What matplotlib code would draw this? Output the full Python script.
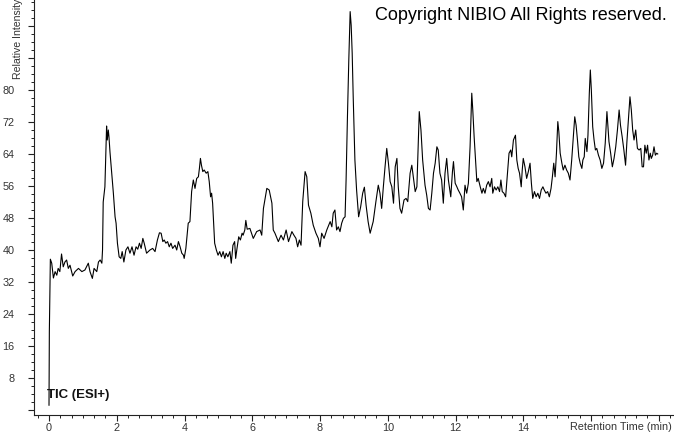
import numpy as np
import matplotlib
matplotlib.use("Agg")
import matplotlib.pyplot as plt
from matplotlib.ticker import MultipleLocator, FixedLocator

# retention time (min) and relative intensity
rt = [0.00, 0.01, 0.04, 0.08, 0.13, 0.18, 0.23, 0.27, 0.32, 0.37,
      0.42, 0.47, 0.52, 0.57, 0.62, 0.70, 0.77, 0.87, 0.97, 1.06,
      1.16, 1.21, 1.28, 1.33, 1.41, 1.46, 1.51, 1.56, 1.58, 1.60,
      1.65, 1.68, 1.70, 1.72, 1.75, 1.77, 1.80, 1.85, 1.90, 1.95,
      1.98, 2.02, 2.07, 2.12, 2.16, 2.21, 2.27, 2.33, 2.39, 2.45,
      2.51, 2.57, 2.62, 2.67, 2.72, 2.77, 2.81, 2.88, 2.98, 3.06,
      3.13, 3.20, 3.26, 3.31, 3.36, 3.40, 3.45, 3.50, 3.55, 3.60,
      3.65, 3.72, 3.77, 3.82, 3.87, 3.92, 3.97, 3.99, 4.04, 4.11,
      4.16, 4.21, 4.26, 4.31, 4.36, 4.41, 4.44, 4.47, 4.50, 4.54,
      4.58, 4.64, 4.69, 4.73, 4.77, 4.80, 4.83, 4.85, 4.89, 4.94,
      4.99, 5.04, 5.09, 5.14, 5.19, 5.23, 5.28, 5.34, 5.38, 5.43,
      5.48, 5.51, 5.55, 5.60, 5.65, 5.70, 5.73, 5.78, 5.81, 5.85,
      5.93, 6.03, 6.13, 6.23, 6.28, 6.33, 6.43, 6.50, 6.58, 6.62,
      6.67, 6.77, 6.85, 6.92, 7.00, 7.07, 7.17, 7.23, 7.29, 7.34,
      7.39, 7.44, 7.49, 7.56, 7.61, 7.66, 7.73, 7.80, 7.88, 7.95,
      8.00, 8.05, 8.12, 8.20, 8.30, 8.35, 8.39, 8.44, 8.49, 8.54,
      8.59, 8.64, 8.69, 8.74, 8.77, 8.81, 8.85, 8.89, 8.92, 8.95,
      8.98, 9.03, 9.08, 9.14, 9.20, 9.26, 9.31, 9.36, 9.42, 9.48,
      9.53, 9.57, 9.65, 9.72, 9.77, 9.82, 9.87, 9.92, 9.97, 10.02,
      10.07, 10.12, 10.17, 10.22, 10.27, 10.31, 10.36, 10.41, 10.48, 10.54,
      10.59, 10.66, 10.71, 10.76, 10.81, 10.86, 10.90, 10.93, 10.98, 11.03,
      11.10, 11.15, 11.20, 11.25, 11.30, 11.35, 11.40, 11.45, 11.49, 11.54,
      11.59, 11.64, 11.69, 11.74, 11.79, 11.86, 11.91, 11.94, 11.99, 12.04,
      12.08, 12.13, 12.18, 12.23, 12.28, 12.33, 12.38, 12.43, 12.48, 12.51,
      12.55, 12.59, 12.63, 12.67, 12.73, 12.78, 12.82, 12.87, 12.92, 12.97,
      13.02, 13.07, 13.10, 13.15, 13.20, 13.25, 13.30, 13.34, 13.38, 13.43,
      13.48, 13.53, 13.58, 13.63, 13.66, 13.71, 13.77, 13.81, 13.85, 13.89,
      13.94, 13.97, 14.00, 14.05, 14.10, 14.15, 14.20, 14.24, 14.28, 14.33,
      14.38, 14.43, 14.48, 14.53, 14.58, 14.62, 14.67, 14.72, 14.77, 14.82,
      14.86, 14.90, 14.94, 14.98, 15.02, 15.05, 15.09, 15.14, 15.18, 15.23,
      15.28, 15.33, 15.38, 15.43, 15.48, 15.52, 15.56, 15.60, 15.64, 15.68,
      15.73, 15.76, 15.80, 15.83, 15.88, 15.91, 15.95, 15.98, 16.01, 16.05,
      16.09, 16.13, 16.17, 16.22, 16.27, 16.32, 16.37, 16.42, 16.47, 16.50,
      16.53, 16.58, 16.63, 16.68, 16.73, 16.78, 16.83, 16.87, 16.92, 16.97,
      17.02, 17.06, 17.10, 17.15, 17.19, 17.23, 17.27, 17.32, 17.37, 17.42,
      17.47, 17.51, 17.55, 17.59, 17.63, 17.67, 17.71, 17.75, 17.78, 17.82,
      17.86, 17.90, 17.94, 17.97]

intensity = [1.2, 19.6, 37.7, 36.7, 33.0, 34.6, 33.7, 35.4, 34.6, 39.0,
             35.8, 37.0, 37.5, 35.4, 36.2, 33.5, 34.6, 35.4, 34.6, 35.0,
             36.7, 34.6, 32.9, 35.4, 34.6, 37.0, 37.5, 36.7, 40.0, 52.0,
             55.8, 64.5, 71.0, 67.5, 70.0, 68.3, 64.5, 59.5, 54.2, 48.3,
             46.7, 41.7, 38.3, 37.9, 39.6, 37.0, 40.0, 40.8, 39.2, 40.8,
             38.7, 40.8, 40.2, 41.7, 40.4, 42.9, 41.7, 39.2, 40.0, 40.4,
             39.6, 42.5, 44.3, 44.2, 42.1, 42.5, 41.7, 42.1, 40.8, 41.7,
             40.4, 41.2, 40.0, 42.1, 40.8, 39.2, 38.7, 37.9, 40.4, 46.7,
             47.1, 54.6, 57.5, 55.4, 57.9, 58.3, 60.4, 62.9, 61.2, 59.6,
             60.0, 59.2, 59.6, 57.1, 53.3, 54.2, 51.7, 48.3, 41.7, 40.0,
             38.7, 39.6, 38.3, 39.6, 37.9, 39.2, 38.3, 39.6, 36.7, 41.2,
             42.1, 37.9, 40.4, 43.3, 42.5, 44.2, 43.7, 45.0, 47.4, 45.2,
             45.4, 42.9, 44.6, 45.0, 43.7, 50.4, 55.4, 55.0, 51.7, 45.0,
             44.2, 42.1, 43.7, 42.5, 45.0, 42.1, 44.6, 43.7, 42.9, 40.8,
             42.5, 41.2, 52.1, 59.6, 58.3, 51.2, 49.2, 46.2, 44.2, 42.9,
             40.8, 44.2, 42.9, 45.0, 47.1, 45.8, 49.2, 50.0, 45.0, 45.8,
             44.6, 46.7, 47.9, 48.3, 57.5, 73.3, 87.5, 99.6, 96.2, 89.2,
             78.3, 62.5, 55.0, 48.3, 50.8, 54.2, 55.7, 51.2, 47.1, 44.2,
             45.8, 47.1, 52.1, 56.2, 54.2, 50.4, 55.8, 60.8, 65.4, 61.7,
             57.1, 55.8, 51.7, 60.8, 62.9, 55.8, 50.4, 49.2, 52.5, 52.9,
             52.1, 59.2, 61.2, 57.9, 54.6, 55.8, 66.7, 74.6, 70.0, 62.5,
             56.2, 53.7, 50.4, 50.0, 54.2, 59.2, 61.7, 65.8, 65.0, 59.2,
             57.5, 51.7, 59.2, 62.9, 57.5, 53.3, 59.6, 62.1, 56.7, 55.8,
             55.0, 54.2, 53.3, 50.0, 56.2, 54.2, 56.7, 65.8, 79.2, 75.0,
             68.3, 62.5, 57.1, 57.9, 55.8, 54.2, 55.4, 54.2, 56.2, 57.1,
             55.8, 57.9, 54.2, 55.8, 55.0, 55.8, 54.6, 57.5, 54.6, 54.2,
             53.3, 58.7, 64.2, 65.0, 63.3, 67.5, 68.7, 62.5, 60.4, 59.2,
             55.8, 60.0, 62.9, 60.8, 57.9, 59.6, 61.7, 56.7, 52.9, 54.6,
             53.3, 54.2, 52.9, 55.0, 55.8, 55.0, 54.2, 54.6, 53.3, 55.4,
             58.3, 61.7, 58.3, 64.2, 72.1, 69.6, 64.2, 61.7, 60.0, 61.2,
             60.0, 59.2, 57.5, 62.5, 68.3, 73.3, 71.2, 67.5, 63.3, 61.7,
             60.4, 62.5, 63.3, 67.9, 64.6, 68.7, 79.2, 85.0, 80.0, 70.8,
             67.5, 65.0, 65.4, 63.7, 62.5, 60.4, 61.7, 66.7, 74.6, 70.8,
             67.1, 64.2, 60.8, 62.9, 65.8, 70.0, 75.0, 71.2, 68.3, 65.0,
             61.2, 67.1, 72.1, 78.3, 75.0, 70.0, 67.5, 70.0, 65.4, 65.0,
             65.4, 60.8, 60.8, 66.2, 64.2, 66.2, 62.5, 64.2, 62.9, 63.7,
             65.8, 63.7, 64.2, 64.0]

x_labels = [0, 2, 4, 6, 8, 10, 12, 14]
y_labels = [8, 16, 24, 32, 40, 48, 56, 64, 72, 80]

plt.rcParams['font.family'] = ['Liberation Sans', 'DejaVu Sans']

W, H = 674, 434
fig = plt.figure(figsize=(W / 100, H / 100), dpi=100)
ax = fig.add_axes([34 / W, 19 / H, (W - 34) / W, 415 / H])

ax.plot(rt, intensity, color='black', linewidth=0.8)

ax.set_xlim(-0.443, 18.45)
ax.set_ylim(-1.25, 102.5)

for side in ['top', 'right']:
    ax.spines[side].set_visible(False)
for side in ['left', 'bottom']:
    ax.spines[side].set_color('#222222')
    ax.spines[side].set_linewidth(0.8)

# x axis: labels every 2 min, small ticks every 1/3 min
ax.xaxis.set_major_locator(FixedLocator(list(range(0, 19, 2))))
ax.set_xticklabels([str(v) if v in x_labels else '' for v in range(0, 19, 2)])
ax.xaxis.set_minor_locator(MultipleLocator(1 / 3))

# y axis: labels 8..80, small ticks every 2
ax.yaxis.set_major_locator(FixedLocator(list(range(0, 101, 8))))
ax.set_yticklabels([str(v) if v in y_labels else '' for v in range(0, 101, 8)])
ax.yaxis.set_minor_locator(MultipleLocator(2))

ax.tick_params(axis='both', which='major', length=4, width=0.8,
               color='#222222', labelsize=7.8, labelcolor='#333333')
ax.tick_params(axis='both', which='minor', length=2.2, width=0.7,
               color='#222222')
ax.tick_params(axis='y', which='major', pad=10)
ax.tick_params(axis='x', which='major', pad=1.5)

fig.text(18 / W, (H - 79) / H, 'Relative Intensity', rotation=90,
         ha='center', va='bottom', fontsize=7.6, color='#333333')
fig.text(672 / W, (H - 427) / H, 'Retention Time (min)', ha='right',
         va='center', fontsize=7.8, color='#333333')
fig.text(667 / W, (H - 20) / H, 'Copyright NIBIO All Rights reserved.',
         ha='right', va='baseline', fontsize=13, color='black')
fig.text(47 / W, (H - 398) / H, 'TIC (ESI+)', ha='left', va='baseline',
         fontsize=9.5, fontweight='bold', color='#111111')

fig.savefig('out.png', dpi=100)
